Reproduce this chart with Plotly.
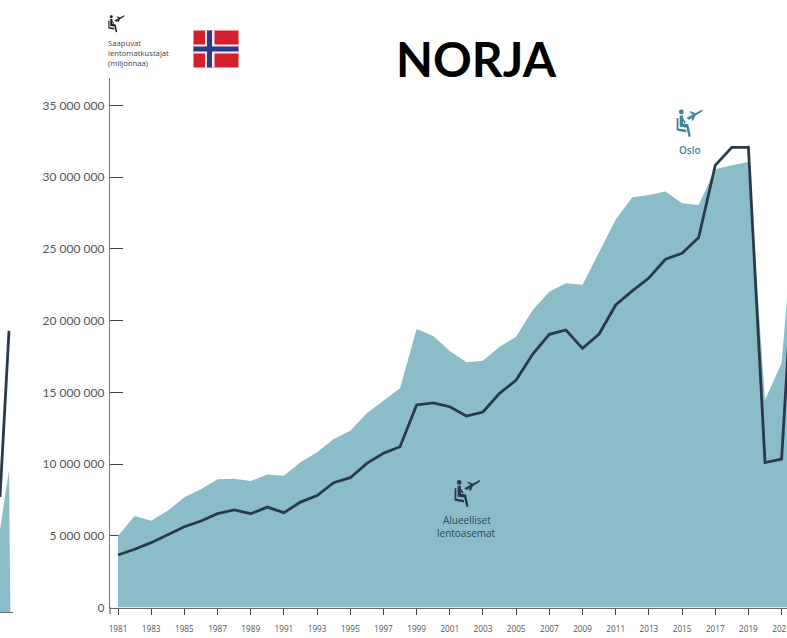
import plotly.graph_objects as go

W, H = 787, 638

years = list(range(1981, 2023))
regional_airports = [4.98, 6.38, 6.05, 6.75, 7.68, 8.24, 8.94, 8.98, 8.82, 9.28, 9.18, 10.12, 10.82, 11.75, 12.33,
                     13.54, 14.42, 15.28, 19.42, 18.93, 17.88, 17.10, 17.20, 18.18, 18.88, 20.74, 22.02, 22.60,
                     22.50, 24.80, 27.05, 28.60, 28.76, 29.00, 28.18, 28.06, 30.55, 30.83, 31.06, 14.47, 17.05, 30.8]
oslo = [3.66, 4.06, 4.52, 5.05, 5.63, 6.03, 6.54, 6.80, 6.54, 7.00, 6.61, 7.35, 7.80, 8.70, 9.05,
        10.05, 10.75, 11.21, 14.12, 14.26, 14.00, 13.35, 13.63, 14.93, 15.86, 17.67, 19.05, 19.35,
        18.07, 19.07, 21.09, 22.07, 22.97, 24.28, 24.70, 25.80, 30.83, 32.08, 32.08, 10.10, 10.35, 29.7]

neighbour_years = [2020, 2021, 2021.15]
neighbour_area = [5.72, 9.9, 0]
neighbour_line_years = [2020, 2021]
neighbour_line = [8.02, 19.6]

y_tick_values = [0, 5, 10, 15, 20, 25, 30, 35]
y_tick_labels = ["0", "5 000 000", "10 000 000", "15 000 000", "20 000 000", "25 000 000", "30 000 000", "35 000 000"]
x_tick_values = list(range(1981, 2023, 2))
x_tick_labels = [str(v) for v in x_tick_values]

AREA = "#8bbdc9"
LINE = "#2b3a4a"
TEAL = "#3f8598"
FONT = "Open Sans"
TICK_FONT = "Lato"

px_year = 16.59
px_million = 14.343
left, bottom, top = 110, 607.5, 78


def fx(x):
    return x / W


def fy(y):
    return 1 - y / H


fig = go.Figure()
fig.add_trace(go.Scatter(x=years, y=regional_airports, mode="lines", fill="tozeroy", fillcolor=AREA,
                         line=dict(color=AREA, width=0), hoverinfo="skip"))
fig.add_trace(go.Scatter(x=years, y=oslo, mode="lines", line=dict(color=LINE, width=2.8), hoverinfo="skip"))
fig.add_trace(go.Scatter(x=neighbour_years, y=neighbour_area, xaxis="x2", yaxis="y2", mode="lines", fill="tozeroy",
                         fillcolor=AREA, line=dict(color=AREA, width=0), hoverinfo="skip"))
fig.add_trace(go.Scatter(x=neighbour_line_years, y=neighbour_line, xaxis="x2", yaxis="y2", mode="lines",
                         line=dict(color=LINE, width=2.8), hoverinfo="skip"))


def icon(ox, oy, s, color):
    def p(pts):
        return "M" + " L".join(f"{fx(ox + a * s):.5f},{fy(oy + b * s):.5f}" for a, b in pts) + " Z"
    paths = [
        [(3.7, 6.4), (7, 6.4), (7, 14.5), (12.3, 15.2), (14.8, 27.6), (12.6, 28), (10.4, 18.4), (3.7, 17.6)],
        [(0.6, 9), (2.4, 9), (2.4, 19.6), (10, 20.8), (10.4, 23.4), (0.6, 21.6)],
        [(7, 9), (9.8, 13.6), (8.6, 14.4), (7, 12)],
        [(10.4, 9), (24.6, 1.4), (27, 0.6), (26, 2.6), (13, 10.8)],
        [(13.2, 2.6), (15.2, 2.6), (20.2, 4.6), (17.4, 6.2)],
        [(16, 8.4), (19.4, 6.6), (17.2, 11.4), (15.6, 11.4)],
    ]
    out = [dict(type="path", xref="paper", yref="paper", path=p(q), fillcolor=color, line=dict(width=0), layer="above")
           for q in paths]
    r = 2.4 * s
    cx, cy = ox + 5.3 * s, oy + 3 * s
    out.append(dict(type="circle", xref="paper", yref="paper", x0=fx(cx - r), x1=fx(cx + r), y0=fy(cy + r),
                    y1=fy(cy - r), fillcolor=color, line=dict(width=0), layer="above"))
    return out


def rect(x0, y0, x1, y1, color):
    return dict(type="rect", xref="paper", yref="paper", x0=fx(x0), x1=fx(x1), y0=fy(y1), y1=fy(y0),
                fillcolor=color, line=dict(width=0), layer="above")


shapes = []
shapes += icon(676, 109, 1, TEAL)
shapes += icon(454, 479.5, 0.98, LINE)
shapes += icon(108, 15, 0.62, "#1a1a1a")
shapes += [
    rect(193.5, 30.5, 238.5, 67.5, "#d2202f"),
    rect(205, 30.5, 214.5, 67.5, "#f4f0f2"),
    rect(193.5, 44.5, 238.5, 53.5, "#f4f0f2"),
    rect(207, 30.5, 212, 67.5, "#2e3a87"),
    rect(193.5, 46.5, 238.5, 51.5, "#2e3a87"),
    dict(type="line", xref="paper", yref="paper", x0=fx(left), x1=fx(left), y0=fy(607), y1=fy(614),
         line=dict(color="#777777", width=1.4)),
]


def note(x, y, text, size, color, anchor="left", weight=400, family=FONT):
    return dict(x=fx(x), y=fy(y), xref="paper", yref="paper", text=text, showarrow=False, xanchor=anchor,
                yanchor="middle", align=anchor, font=dict(family=family, size=size, color=color, weight=weight))


annotations = [
    note(476, 59, "NORJA", 48, "#000000", "center", 700, "Lato"),
    note(106, 43, "Saapuvat", 7.7, "#444444"),
    note(106, 53, "lentomatkustajat", 7.7, "#444444"),
    note(106, 63.5, "(miljoonaa)", 7.7, "#444444"),
    note(689.5, 149.5, "Oslo", 10, TEAL, "center", 600),
    note(467, 520, "Alueelliset", 10, "#2f4858", "center"),
    note(467, 533, "lentoasemat", 10, "#2f4858", "center"),
]

fig.update_layout(
    template="none",
    width=W, height=H, margin=dict(l=0, r=0, t=0, b=0, pad=0), autosize=False, showlegend=False,
    paper_bgcolor="white", plot_bgcolor="white", shapes=shapes, annotations=annotations,
    font=dict(family=FONT),
    xaxis=dict(domain=[fx(left), 1], range=[1981 - (118 - left) / px_year, 1981 + (W - 118) / px_year],
               tickmode="array", tickvals=x_tick_values, ticktext=x_tick_labels, ticks="outside", ticklen=6,
               tickwidth=1, tickcolor="#444444", tickfont=dict(size=8.2, color="#555555", family=FONT),
               showgrid=False, zeroline=False, showline=True, linecolor="#666666", linewidth=1.4,
               anchor="y", tickangle=0, layer="below traces", ticklabelstandoff=7, automargin=False,
               ticklabeloverflow="allow"),
    yaxis=dict(domain=[fy(bottom), fy(top)], range=[0, (bottom - top) / px_million],
               tickmode="array", tickvals=y_tick_values, ticktext=y_tick_labels, ticks="inside", ticklen=13,
               tickwidth=1, tickcolor="#444444", tickfont=dict(size=12, color="#555555", family=TICK_FONT),
               showgrid=False, zeroline=False, showline=True, linecolor="#777777", linewidth=1.4,
               anchor="x", layer="below traces", ticklabelstandoff=2, automargin=False),
    xaxis2=dict(domain=[0, fx(13)], range=[2020, 2021 + 4 / 9], showticklabels=False, ticks="", showgrid=False,
                zeroline=False, showline=True, linecolor="#666666", linewidth=1.2, anchor="y2", automargin=False),
    yaxis2=dict(domain=[fy(612), fy(top)], range=[0, (612 - top) / px_million], visible=False, anchor="x2",
                automargin=False),
)

fig.write_html("out.html", config=dict(displayModeBar=False),
               post_script="document.body.style.margin='0';document.body.style.overflow='hidden';")
